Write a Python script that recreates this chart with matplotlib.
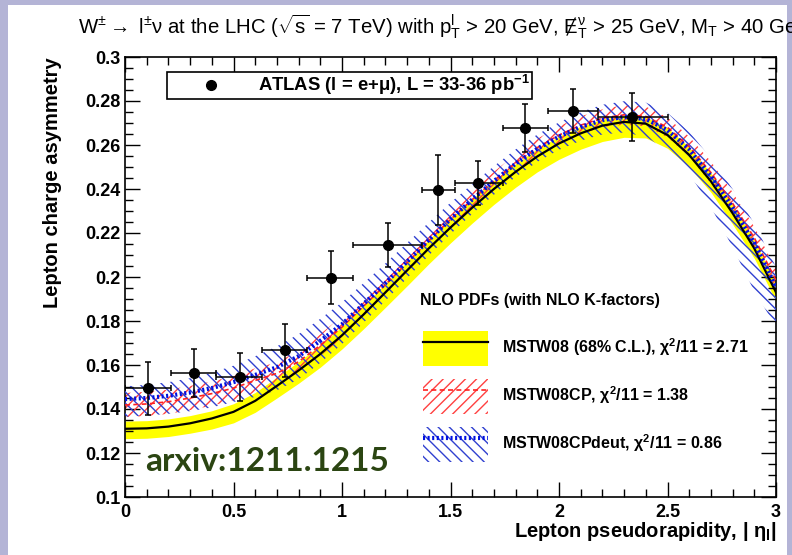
import matplotlib
matplotlib.use('Agg')
import matplotlib.pyplot as plt
from matplotlib.lines import Line2D
from matplotlib.patches import Rectangle
from matplotlib.ticker import MultipleLocator, FuncFormatter

# --- ATLAS data (lepton charge asymmetry) ---
atlas_eta = [0.105, 0.32, 0.53, 0.739, 0.948, 1.21, 1.444, 1.625, 1.843, 2.063, 2.338]
bin_lo = [0.0, 0.21, 0.42, 0.63, 0.84, 1.05, 1.37, 1.52, 1.74, 1.95, 2.18]
bin_hi = [0.21, 0.42, 0.63, 0.84, 1.05, 1.37, 1.52, 1.74, 1.95, 2.18, 2.5]
atlas_asym = [0.1495, 0.1565, 0.1545, 0.1667, 0.1997, 0.2145, 0.2395, 0.2426, 0.2676, 0.2756, 0.2726]
atlas_err = [0.012, 0.011, 0.011, 0.012, 0.012, 0.010, 0.016, 0.010, 0.011, 0.010, 0.011]

# --- theory curves, read every 0.1 in |eta| ---
eta = [0.0, 0.1, 0.2, 0.3, 0.4, 0.5, 0.6, 0.7, 0.8, 0.9, 1.0, 1.1, 1.2, 1.3, 1.4, 1.5,
       1.6, 1.7, 1.8, 1.9, 2.0, 2.1, 2.2, 2.3, 2.4, 2.5, 2.6, 2.7, 2.8, 2.9, 3.0]
mstw = [0.1310, 0.1312, 0.1320, 0.1335, 0.1357, 0.1387, 0.1437, 0.1505, 0.1575, 0.1650,
        0.1735, 0.1830, 0.1930, 0.2030, 0.2130, 0.2225, 0.2315, 0.2400, 0.2478, 0.2548,
        0.2607, 0.2653, 0.2688, 0.2705, 0.2697, 0.2645, 0.2555, 0.2435, 0.2290, 0.2130, 0.1930]
mstw_lo = [0.1265, 0.1267, 0.1275, 0.1290, 0.1309, 0.1337, 0.1385, 0.1450, 0.1517, 0.1590,
           0.1673, 0.1765, 0.1862, 0.1960, 0.2060, 0.2155, 0.2245, 0.2330, 0.2408, 0.2478,
           0.2535, 0.2581, 0.2616, 0.2635, 0.2632, 0.2585, 0.2500, 0.2385, 0.2240, 0.2085, 0.1890]
mstw_hi = [0.1345, 0.1347, 0.1355, 0.1370, 0.1392, 0.1424, 0.1475, 0.1545, 0.1615, 0.1690,
           0.1775, 0.1870, 0.1970, 0.2070, 0.2170, 0.2265, 0.2355, 0.2440, 0.2515, 0.2583,
           0.2640, 0.2685, 0.2718, 0.2735, 0.2728, 0.2678, 0.2590, 0.2472, 0.2328, 0.2168, 0.1970]
cp = [0.1418, 0.1423, 0.1433, 0.1450, 0.1470, 0.1495, 0.1530, 0.1562, 0.1615, 0.1690,
      0.1772, 0.1868, 0.1965, 0.2065, 0.2165, 0.2262, 0.2352, 0.2438, 0.2518, 0.2588,
      0.2645, 0.2690, 0.2722, 0.2737, 0.2730, 0.2680, 0.2593, 0.2475, 0.2335, 0.2178, 0.1985]
cp_lo = [0.1363, 0.1368, 0.1378, 0.1395, 0.1415, 0.1440, 0.1475, 0.1512, 0.1565, 0.1640,
         0.1722, 0.1818, 0.1915, 0.2025, 0.2125, 0.2222, 0.2312, 0.2398, 0.2478, 0.2548,
         0.2605, 0.2650, 0.2682, 0.2692, 0.2685, 0.2635, 0.2548, 0.2425, 0.2285, 0.2128, 0.1935]
cp_hi = [0.1473, 0.1478, 0.1488, 0.1505, 0.1525, 0.1550, 0.1585, 0.1612, 0.1665, 0.1740,
         0.1822, 0.1918, 0.2015, 0.2105, 0.2205, 0.2302, 0.2392, 0.2478, 0.2558, 0.2628,
         0.2685, 0.2730, 0.2762, 0.2782, 0.2775, 0.2725, 0.2638, 0.2525, 0.2385, 0.2228, 0.2035]
deut = [0.1445, 0.1450, 0.1460, 0.1475, 0.1495, 0.1522, 0.1555, 0.1590, 0.1640, 0.1710,
        0.1785, 0.1878, 0.1972, 0.2070, 0.2168, 0.2263, 0.2352, 0.2436, 0.2515, 0.2583,
        0.2638, 0.2682, 0.2713, 0.2727, 0.2718, 0.2668, 0.2580, 0.2458, 0.2315, 0.2155, 0.1955]
deut_lo = [0.1365, 0.1370, 0.1378, 0.1390, 0.1407, 0.1432, 0.1455, 0.1485, 0.1535, 0.1610,
           0.1695, 0.1793, 0.1892, 0.1995, 0.2098, 0.2195, 0.2287, 0.2374, 0.2455, 0.2523,
           0.2578, 0.2620, 0.2648, 0.2657, 0.2638, 0.2573, 0.2470, 0.2318, 0.2135, 0.1935, 0.1775]
deut_hi = [0.1503, 0.1510, 0.1522, 0.1540, 0.1565, 0.1597, 0.1640, 0.1685, 0.1740, 0.1810,
           0.1885, 0.1973, 0.2062, 0.2155, 0.2248, 0.2338, 0.2422, 0.2504, 0.2580, 0.2648,
           0.2703, 0.2750, 0.2783, 0.2799, 0.2793, 0.2746, 0.2660, 0.2540, 0.2400, 0.2243, 0.2045]

plt.rcParams['font.family'] = ['Liberation Sans', 'DejaVu Sans']
plt.rcParams['mathtext.fontset'] = 'custom'
plt.rcParams['mathtext.rm'] = 'Liberation Sans'
plt.rcParams['mathtext.it'] = 'Liberation Sans:italic'
plt.rcParams['mathtext.bf'] = 'Liberation Sans:bold'
plt.rcParams['mathtext.default'] = 'regular'
plt.rcParams['hatch.linewidth'] = 1.0

fig = plt.figure(figsize=(7.92, 5.55), dpi=100)
fig.patch.set_facecolor('#b4b4d6')
fig.add_artist(Rectangle((8/792, 0), 779/792, 1 - 5/555, transform=fig.transFigure,
                         facecolor='white', edgecolor='none', zorder=0))
ax = fig.add_axes([125/792, 1 - 497/555, 651/792, 440/555])

yellow = ax.fill_between(eta, mstw_lo, mstw_hi, color='#ffff00', lw=0, zorder=1)
red_band = ax.fill_between(eta, cp_lo, cp_hi, facecolor='none', edgecolor='#ff4040',
                           hatch='///', lw=0, zorder=2)
blue_band = ax.fill_between(eta, deut_lo, deut_hi, facecolor='none', edgecolor='#3040d0',
                            hatch='\\\\\\', lw=0, zorder=3)
black_line, = ax.plot(eta, mstw, color='k', lw=1.6, zorder=4)
red_line, = ax.plot(eta, cp, color='#ff2020', lw=1.2, dashes=(3, 2), zorder=5)
blue_line, = ax.plot(eta, deut, color='#0010e0', lw=3, ls=(0, (0.5, 0.6)), zorder=5)

xerr = [[e - lo for e, lo in zip(atlas_eta, bin_lo)], [hi - e for e, hi in zip(atlas_eta, bin_hi)]]
ax.errorbar(atlas_eta, atlas_asym, xerr=xerr, yerr=atlas_err, fmt='o', color='k', ms=7,
            elinewidth=1.1, capsize=2.5, capthick=1.1, zorder=6)

ax.set_xlim(0, 3)
ax.set_ylim(0.1, 0.3)
ax.xaxis.set_major_locator(MultipleLocator(0.5))
ax.xaxis.set_minor_locator(MultipleLocator(0.1))
ax.yaxis.set_major_locator(MultipleLocator(0.02))
ax.yaxis.set_minor_locator(MultipleLocator(0.005))
fmt = FuncFormatter(lambda v, p: '%g' % round(v, 3))
ax.xaxis.set_major_formatter(fmt)
ax.yaxis.set_major_formatter(fmt)
ax.tick_params(which='both', direction='in', top=True, right=True, width=1.0, labelsize=13)
ax.tick_params(which='major', length=11)
ax.tick_params(which='minor', length=6)
ax.tick_params(axis='x', pad=5)
for lab in ax.get_xticklabels() + ax.get_yticklabels():
    lab.set_fontweight('bold')
for s in ax.spines.values():
    s.set_linewidth(1.2)

ax.set_ylabel('Lepton charge asymmetry', fontsize=14.5, fontweight='bold', loc='top')
ax.yaxis.set_label_coords(-0.097, 1.0)
ax.set_xlabel(r'Lepton pseudorapidity, | $\eta_l$|', fontsize=14.5, fontweight='bold', loc='right')
ax.xaxis.set_label_coords(1.0, -0.052)

# the title runs past the right edge, as in the original
fig.text(78/792, 1 - 27/555,
         r'W$^{\pm}\rightarrow$ l$^{\pm}\nu$ at the LHC ($\sqrt{s}$ = 7 TeV) with p$_{T}^{l}$ > 20 GeV, '
         r'Ɇ$_{T}^{\nu}$ > 25 GeV, M$_{T}$ > 40 GeV',
         fontsize=14.7, ha='left', va='center')

leg1 = ax.legend(handles=[Line2D([], [], marker='o', ls='none', color='k', ms=7)],
                 labels=[r'ATLAS (l = e+$\mu$), L = 33-36 pb$^{-1}$'],
                 loc='upper left', bbox_to_anchor=(0.0645, 0.967), frameon=True, fancybox=False,
                 edgecolor='k', framealpha=1, prop=dict(weight='bold', size=13.3),
                 handlelength=4.6, handletextpad=0.25, borderpad=0.1, borderaxespad=0)
leg1.get_frame().set_linewidth(1.2)
ax.add_artist(leg1)

ax.text(0.453, 0.446, 'NLO PDFs (with NLO K-factors)', transform=ax.transAxes,
        fontsize=11.5, fontweight='bold', ha='left', va='center')
leg2 = ax.legend(handles=[(yellow, black_line), (red_band, red_line), (blue_band, blue_line)],
                 labels=[r'MSTW08 (68% C.L.), $\chi^2$/11 = 2.71',
                         r'MSTW08CP, $\chi^2$/11 = 1.38',
                         r'MSTW08CPdeut, $\chi^2$/11 = 0.86'],
                 prop=dict(weight='bold', size=11.5), loc='upper left',
                 bbox_to_anchor=(0.457, 0.378), frameon=False, borderpad=0, borderaxespad=0,
                 handlelength=4.1, handleheight=3.0, handletextpad=0.85, labelspacing=0.82)

ax.text(0.031, 0.08, 'arxiv:1211.1215', transform=ax.transAxes, fontsize=24,
        fontweight='bold', family=['Lato', 'DejaVu Sans'], color='#2b4512', va='center', ha='left')

fig.savefig('out.png', dpi=100, facecolor=fig.get_facecolor())
